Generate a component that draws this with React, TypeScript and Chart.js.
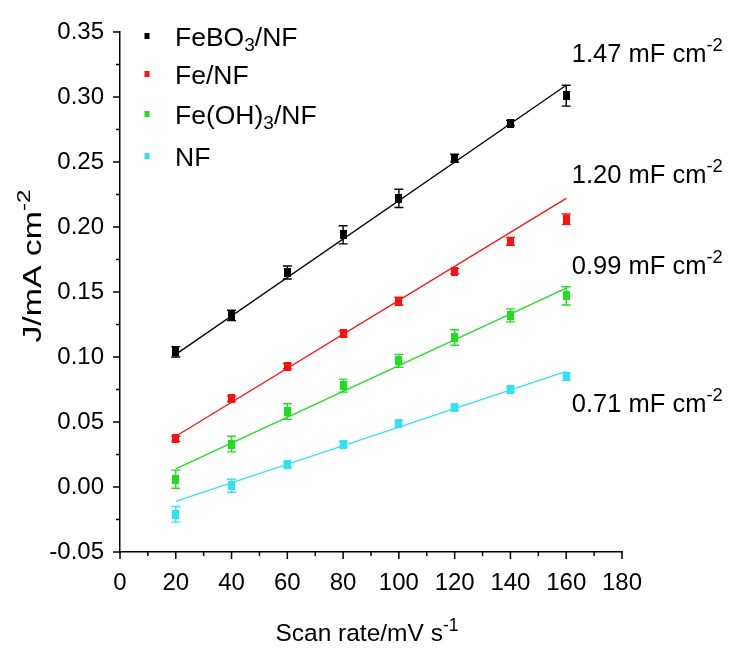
import { useEffect, useRef } from 'react';
import { Chart, registerables } from 'chart.js';

Chart.register(...registerables);

// ---------- data ----------
const scanRates = [20, 40, 60, 80, 100, 120, 140, 160];

const feBO3 = [0.104, 0.132, 0.165, 0.194, 0.222, 0.253, 0.280, 0.301];
const feBO3Err = [0.004, 0.004, 0.005, 0.007, 0.007, 0.003, 0.002, 0.008];

const fe = [0.037, 0.068, 0.093, 0.118, 0.143, 0.166, 0.189, 0.206];
const feErr = [0.002, 0.002, 0.002, 0.002, 0.003, 0.002, 0.003, 0.004];

const feOH3 = [0.006, 0.033, 0.058, 0.078, 0.097, 0.115, 0.132, 0.147];
const feOH3Err = [0.007, 0.006, 0.006, 0.005, 0.005, 0.006, 0.005, 0.007];

const nf = [-0.021, 0.001, 0.017, 0.033, 0.049, 0.061, 0.075, 0.085];
const nfErr = [0.006, 0.005, 0.002, 0.002, 0.002, 0.002, 0.002, 0.003];

const fitX = [20, 160];
const feBO3Fit = [0.102, 0.309];
const feFit = [0.039, 0.222];
const feOH3Fit = [0.014, 0.153];
const nfFit = [-0.011, 0.089];

const seriesNames = ['FeBO_3/NF', 'Fe/NF', 'Fe(OH)_3/NF', 'NF'];
const seriesColors = ['#000000', '#ff1010', '#1de01d', '#2ee4f4'];

const capacitances = ['1.47 mF cm^-2', '1.20 mF cm^-2', '0.99 mF cm^-2', '0.71 mF cm^-2'];
const capLabelX = 162;
const capLabelY = [0.334, 0.241, 0.171, 0.065];

const xTickValues = [0, 20, 40, 60, 80, 100, 120, 140, 160, 180];
const yTickValues = [-0.05, 0.0, 0.05, 0.1, 0.15, 0.2, 0.25, 0.3, 0.35];

const xTitle = 'Scan rate/mV s^-1';
const yTitle = 'J/mA cm^-2';

const FONT = "'Liberation Sans', Arial, Helvetica, sans-serif";

// ---------- rich text helpers ----------
type Part = { t: string; mode: 'n' | 'sub' | 'sup' };
function parseRich(s: string): Part[] {
  const parts: Part[] = [];
  let i = 0;
  let buf = '';
  while (i < s.length) {
    const c = s[i];
    if (c === '_' || c === '^') {
      if (buf) parts.push({ t: buf, mode: 'n' });
      buf = '';
      let j = i + 1;
      let tok = '';
      if (s[j] === '-') { tok += '-'; j++; }
      while (j < s.length && /[0-9]/.test(s[j])) { tok += s[j]; j++; }
      parts.push({ t: tok, mode: c === '_' ? 'sub' : 'sup' });
      i = j;
    } else {
      buf += c;
      i++;
    }
  }
  if (buf) parts.push({ t: buf, mode: 'n' });
  return parts;
}

function richWidth(ctx: CanvasRenderingContext2D, s: string, size: number) {
  let w = 0;
  for (const p of parseRich(s)) {
    const fs = p.mode === 'n' ? size : size * 0.72;
    ctx.font = `${fs}px ${FONT}`;
    w += ctx.measureText(p.t).width;
  }
  return w;
}

function drawRich(ctx: CanvasRenderingContext2D, s: string, x: number, baseline: number, size: number) {
  let cx = x;
  ctx.textBaseline = 'alphabetic';
  ctx.textAlign = 'left';
  for (const p of parseRich(s)) {
    const fs = p.mode === 'n' ? size : size * 0.72;
    ctx.font = `${fs}px ${FONT}`;
    let dy = 0;
    if (p.mode === 'sub') dy = size * 0.22;
    if (p.mode === 'sup') dy = -size * 0.42;
    ctx.fillText(p.t, cx, baseline + dy);
    cx += ctx.measureText(p.t).width;
  }
}

function makeMarker(color: string) {
  const c = document.createElement('canvas');
  c.width = 7;
  c.height = 9;
  const g = c.getContext('2d');
  if (g) {
    g.fillStyle = color;
    g.fillRect(0, 0, 7, 9);
  }
  return c;
}

const seriesValues = [feBO3, fe, feOH3, nf];
const seriesErrors = [feBO3Err, feErr, feOH3Err, nfErr];
const seriesFits = [feBO3Fit, feFit, feOH3Fit, nfFit];

const decorPlugin = {
  id: 'decor',
  beforeDatasetsDraw(chart: any) {
    const ctx: CanvasRenderingContext2D = chart.ctx;
    const xs = chart.scales.x;
    const ys = chart.scales.y;
    ctx.save();
    // error bars
    seriesValues.forEach((vals, si) => {
      ctx.strokeStyle = seriesColors[si];
      ctx.lineWidth = 1.4;
      vals.forEach((v, i) => {
        const err = seriesErrors[si][i];
        const px = xs.getPixelForValue(scanRates[i]);
        const yt = ys.getPixelForValue(v + err);
        const yb = ys.getPixelForValue(v - err);
        ctx.beginPath();
        ctx.moveTo(px, yt);
        ctx.lineTo(px, yb);
        ctx.moveTo(px - 4.5, yt);
        ctx.lineTo(px + 4.5, yt);
        ctx.moveTo(px - 4.5, yb);
        ctx.lineTo(px + 4.5, yb);
        ctx.stroke();
      });
    });
    ctx.restore();
  },
  afterDraw(chart: any) {
    const ctx: CanvasRenderingContext2D = chart.ctx;
    const xs = chart.scales.x;
    const ys = chart.scales.y;
    const area = chart.chartArea;
    ctx.save();
    ctx.strokeStyle = '#000';
    ctx.lineWidth = 1.5;
    // x ticks (major + minor)
    for (let k = 0; k < xTickValues.length; k++) {
      const v = xTickValues[k];
      const px = xs.getPixelForValue(v);
      ctx.beginPath();
      ctx.moveTo(px, area.bottom);
      ctx.lineTo(px, area.bottom + 7);
      ctx.stroke();
      if (k < xTickValues.length - 1) {
        const mv = (v + xTickValues[k + 1]) / 2;
        const mx = xs.getPixelForValue(mv);
        ctx.beginPath();
        ctx.moveTo(mx, area.bottom);
        ctx.lineTo(mx, area.bottom + 4);
        ctx.stroke();
      }
    }
    // y ticks
    for (let k = 0; k < yTickValues.length; k++) {
      const v = yTickValues[k];
      const py = ys.getPixelForValue(v);
      ctx.beginPath();
      ctx.moveTo(area.left, py);
      ctx.lineTo(area.left - 7, py);
      ctx.stroke();
      if (k < yTickValues.length - 1) {
        const mv = (v + yTickValues[k + 1]) / 2;
        const my = ys.getPixelForValue(mv);
        ctx.beginPath();
        ctx.moveTo(area.left, my);
        ctx.lineTo(area.left - 4, my);
        ctx.stroke();
      }
    }

    ctx.fillStyle = '#000';
    // capacitance annotations
    capacitances.forEach((txt, i) => {
      const px = xs.getPixelForValue(capLabelX);
      const py = ys.getPixelForValue(capLabelY[i]);
      drawRich(ctx, txt, px, py + 9, 25.5);
    });

    // legend
    const legendRows = [36, 74, 114, 156];
    seriesNames.forEach((name, i) => {
      ctx.fillStyle = seriesColors[i];
      ctx.fillRect(144.5, legendRows[i] - 3, 5, 6);
      ctx.fillStyle = '#000';
      drawRich(ctx, name, 175, legendRows[i] + 9.5, 26.5);
    });

    // x title
    const xw = richWidth(ctx, xTitle, 24.5);
    const xc = (area.left + area.right) / 2 - 4;
    drawRich(ctx, xTitle, xc - xw / 2, 641, 24.5);

    // y title (elongated like the reference)
    ctx.save();
    ctx.translate(41, 266);
    ctx.rotate(-Math.PI / 2);
    ctx.scale(1.3, 1);
    const yw = richWidth(ctx, yTitle, 26);
    drawRich(ctx, yTitle, -yw / 2, 0, 26);
    ctx.restore();

    ctx.restore();
  },
};

export default function App() {
  const ref = useRef<HTMLCanvasElement | null>(null);

  useEffect(() => {
    document.body.style.margin = '0';
    const canvas = ref.current;
    if (!canvas) return;

    const datasets: any[] = [];
    seriesValues.forEach((vals, si) => {
      datasets.push({
        type: 'line',
        label: seriesNames[si] + ' fit',
        data: fitX.map((x, i) => ({ x, y: seriesFits[si][i] })),
        borderColor: seriesColors[si],
        borderWidth: 1.3,
        pointRadius: 0,
        showLine: true,
        fill: false,
      });
      datasets.push({
        type: 'scatter',
        label: seriesNames[si],
        data: scanRates.map((x, i) => ({ x, y: vals[i] })),
        backgroundColor: seriesColors[si],
        borderColor: seriesColors[si],
        pointStyle: makeMarker(seriesColors[si]),
        pointRadius: 4,
        borderWidth: 0,
        showLine: false,
      });
    });

    const chart = new Chart(canvas, {
      type: 'scatter',
      data: { datasets },
      plugins: [decorPlugin],
      options: {
        animation: false,
        responsive: false,
        devicePixelRatio: 1,
        layout: { padding: { top: 32, right: 112, left: 0, bottom: 0 } },
        plugins: { legend: { display: false }, tooltip: { enabled: false } },
        scales: {
          x: {
            type: 'linear',
            min: 0,
            max: 180,
            afterBuildTicks: (scale: any) => {
              scale.ticks = xTickValues.map((v) => ({ value: v }));
            },
            afterFit: (scale: any) => {
              scale.height = 96;
            },
            border: { display: true, color: '#000', width: 1.5 },
            grid: { display: true, drawOnChartArea: false, drawTicks: true, tickLength: 7, color: 'rgba(0,0,0,0)' },
            ticks: {
              color: '#000',
              font: { family: FONT, size: 24 },
              padding: 10,
              maxRotation: 0,
              autoSkip: false,
              callback: (v: any) => String(v),
            },
          },
          y: {
            type: 'linear',
            min: -0.05,
            max: 0.35,
            afterBuildTicks: (scale: any) => {
              scale.ticks = yTickValues.map((v) => ({ value: v }));
            },
            afterFit: (scale: any) => {
              scale.width = 120;
            },
            border: { display: true, color: '#000', width: 1.5 },
            grid: { display: true, drawOnChartArea: false, drawTicks: true, tickLength: 7, color: 'rgba(0,0,0,0)' },
            ticks: {
              color: '#000',
              font: { family: FONT, size: 24 },
              padding: 9,
              autoSkip: false,
              callback: (v: any) => Number(v).toFixed(2),
            },
          },
        },
      },
    });

    return () => chart.destroy();
  }, []);

  return (
    <div style={{ width: 734, height: 648 }}>
      <canvas ref={ref} width={734} height={648} style={{ display: 'block', width: 734, height: 648 }} />
    </div>
  );
}
